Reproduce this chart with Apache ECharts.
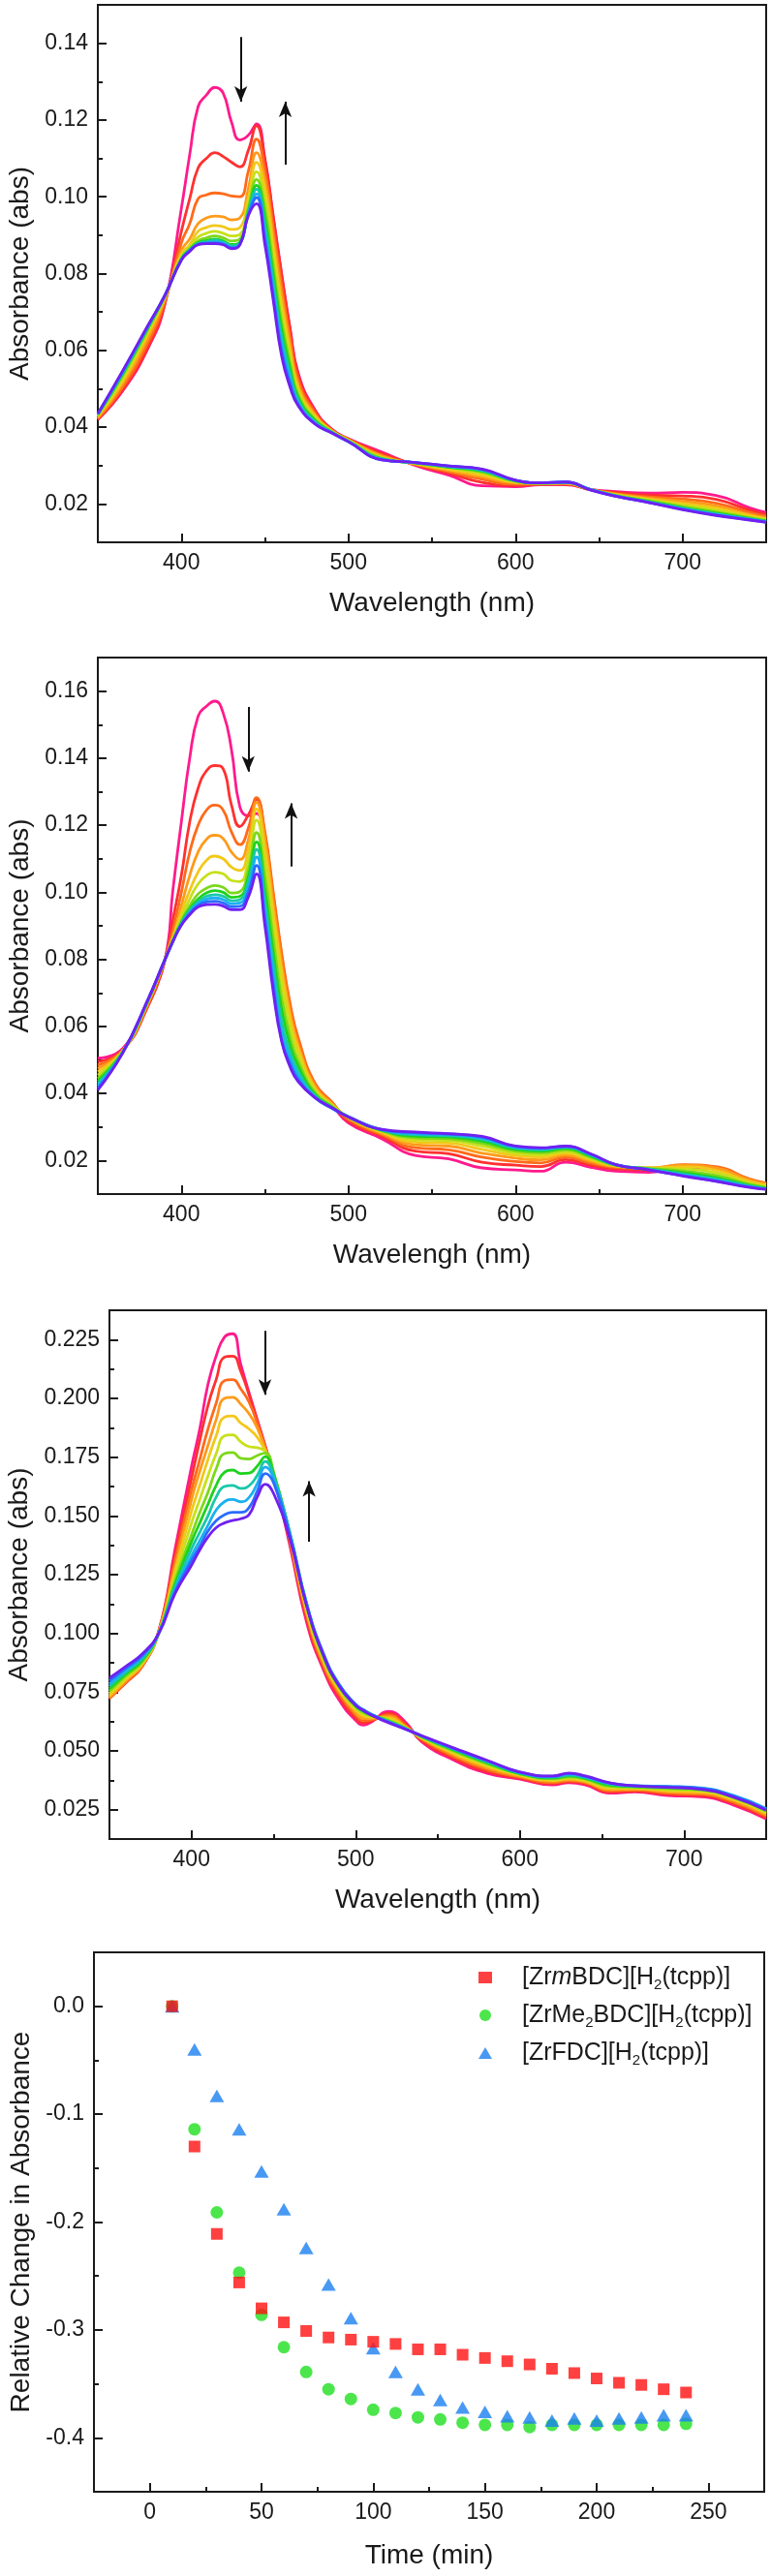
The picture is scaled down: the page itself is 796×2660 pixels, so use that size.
<!DOCTYPE html>
<html>
<head>
<meta charset="utf-8">
<title>UV-vis spectra and relative change in absorbance</title>
<script src="https://cdn.jsdelivr.net/npm/echarts@6.0.0/dist/echarts.min.js"></script>
<style>
  html, body { margin: 0; padding: 0; background: #fff; }
  #chart { width: 796px; height: 2660px; }
</style>
</head>
<body>
<div id="chart"></div>
<script>
// ---- panel 1 : spectra (first curve = t0, pink ... last = violet)
var wl1 = [350, 365, 380, 390, 400, 405, 410, 415, 420, 425, 430, 435, 440, 445, 450, 455, 460, 465, 470, 480, 490, 500,
           520, 540, 560, 580, 600, 615, 630, 645, 660, 680, 700, 720, 740, 750];
var spec1 = [
  [.0420, .0495, .0605, .0718, .0970, .1110, .1235, .1265, .1285, .1270, .1195, .1148, .1160, .1190, .1100, .0950, .0800, .0660, .0540, .0445, .0395, .0370, .0335, .0300, .0275, .0247, .0245, .0250, .0250, .0238, .0232, .0228, .0230, .0222, .0190, .0178],
  [.0420, .0498, .0608, .0720, .0910, .0995, .1075, .1100, .1115, .1105, .1090, .1078, .1120, .1185, .1095, .0945, .0795, .0655, .0535, .0442, .0394, .0369, .0331, .0302, .0280, .0256, .0248, .0251, .0251, .0237, .0230, .0223, .0221, .0212, .0184, .0173],
  [.0422, .0505, .0620, .0726, .0880, .0930, .0995, .1005, .1010, .1008, .1002, .1000, .1065, .1150, .1070, .0920, .0770, .0635, .0522, .0437, .0392, .0368, .0327, .0303, .0284, .0264, .0251, .0252, .0253, .0237, .0227, .0218, .0213, .0202, .0178, .0168],
  [.0425, .0513, .0632, .0731, .0860, .0890, .0930, .0945, .0950, .0948, .0940, .0945, .1020, .1115, .1045, .0895, .0745, .0615, .0510, .0432, .0391, .0367, .0325, .0304, .0287, .0270, .0254, .0253, .0254, .0237, .0226, .0215, .0207, .0195, .0173, .0164],
  [.0428, .0521, .0643, .0735, .0850, .0875, .0910, .0920, .0925, .0922, .0915, .0920, .0995, .1090, .1020, .0870, .0720, .0598, .0500, .0428, .0390, .0366, .0322, .0305, .0290, .0275, .0256, .0253, .0254, .0237, .0224, .0212, .0201, .0189, .0170, .0161],
  [.0430, .0528, .0650, .0738, .0845, .0870, .0895, .0905, .0910, .0905, .0898, .0902, .0980, .1065, .0995, .0845, .0697, .0583, .0491, .0424, .0389, .0365, .0320, .0306, .0293, .0280, .0258, .0254, .0255, .0237, .0223, .0210, .0197, .0184, .0166, .0159],
  [.0432, .0535, .0655, .0740, .0840, .0865, .0885, .0893, .0898, .0893, .0885, .0890, .0970, .1045, .0970, .0820, .0675, .0568, .0483, .0420, .0388, .0364, .0319, .0307, .0295, .0283, .0259, .0254, .0256, .0237, .0222, .0208, .0193, .0179, .0164, .0157],
  [.0433, .0539, .0658, .0741, .0838, .0862, .0880, .0886, .0890, .0885, .0876, .0882, .0962, .1030, .0945, .0797, .0655, .0555, .0476, .0417, .0387, .0363, .0317, .0307, .0296, .0286, .0260, .0254, .0256, .0237, .0221, .0206, .0190, .0176, .0162, .0155],
  [.0434, .0542, .0661, .0741, .0837, .0861, .0878, .0883, .0887, .0882, .0872, .0879, .0958, .1020, .0925, .0777, .0635, .0542, .0469, .0414, .0386, .0363, .0317, .0307, .0297, .0287, .0261, .0255, .0256, .0237, .0221, .0205, .0189, .0174, .0161, .0154],
  [.0434, .0544, .0663, .0742, .0836, .0860, .0877, .0880, .0883, .0879, .0869, .0877, .0955, .1008, .0905, .0757, .0615, .0528, .0463, .0411, .0386, .0362, .0316, .0308, .0298, .0289, .0261, .0255, .0257, .0237, .0221, .0204, .0187, .0173, .0160, .0153],
  [.0435, .0546, .0664, .0742, .0836, .0859, .0876, .0879, .0880, .0877, .0867, .0876, .0952, .0998, .0890, .0743, .0598, .0515, .0458, .0409, .0385, .0362, .0315, .0308, .0299, .0290, .0262, .0255, .0257, .0237, .0220, .0204, .0186, .0171, .0159, .0153],
  [.0435, .0548, .0665, .0742, .0835, .0858, .0875, .0878, .0878, .0875, .0865, .0875, .0950, .0982, .0875, .0730, .0585, .0505, .0455, .0408, .0385, .0362, .0315, .0308, .0299, .0291, .0262, .0255, .0257, .0236, .0220, .0203, .0185, .0170, .0158, .0152]
];

// ---- panel 2
var wl2 = [350, 365, 380, 390, 395, 400, 405, 410, 415, 420, 425, 430, 435, 440, 445, 450, 455, 460, 465, 470, 480, 490, 500,
           520, 540, 560, 580, 600, 615, 630, 645, 660, 680, 700, 720, 740, 750];
var spec2 = [
  [.0505, .0535, .0675, .0795, .1010, .1210, .1400, .1525, .1555, .1570, .1535, .1425, .1255, .1228, .1235, .1110, .0920, .0750, .0610, .0520, .0410, .0365, .0312, .0265, .0215, .0205, .0178, .0172, .0168, .0195, .0180, .0168, .0165, .0180, .0175, .0140, .0128],
  [.0495, .0530, .0660, .0795, .0920, .1050, .1210, .1310, .1362, .1378, .1368, .1260, .1196, .1230, .1277, .1170, .0990, .0810, .0660, .0555, .0427, .0373, .0318, .0272, .0228, .0220, .0195, .0186, .0182, .0203, .0186, .0175, .0172, .0184, .0178, .0142, .0130],
  [.0485, .0530, .0665, .0796, .0890, .1000, .1120, .1200, .1245, .1260, .1245, .1180, .1142, .1190, .1282, .1180, .1000, .0820, .0670, .0565, .0430, .0375, .0322, .0277, .0238, .0232, .0210, .0197, .0193, .0210, .0192, .0179, .0176, .0188, .0182, .0145, .0133],
  [.0475, .0528, .0670, .0797, .0870, .0960, .1050, .1120, .1158, .1170, .1160, .1120, .1098, .1155, .1268, .1160, .0970, .0790, .0645, .0545, .0422, .0370, .0326, .0281, .0247, .0243, .0222, .0207, .0202, .0216, .0197, .0182, .0178, .0186, .0178, .0142, .0131],
  [.0465, .0527, .0672, .0797, .0865, .0940, .1005, .1060, .1095, .1108, .1100, .1075, .1065, .1125, .1248, .1130, .0940, .0765, .0625, .0532, .0415, .0368, .0328, .0284, .0255, .0252, .0233, .0215, .0210, .0222, .0202, .0184, .0178, .0181, .0171, .0137, .0127],
  [.0455, .0526, .0674, .0797, .0860, .0925, .0980, .1025, .1050, .1060, .1055, .1035, .1032, .1095, .1215, .1090, .0905, .0730, .0600, .0515, .0408, .0365, .0330, .0287, .0262, .0259, .0243, .0222, .0217, .0227, .0206, .0185, .0177, .0175, .0163, .0133, .0123],
  [.0445, .0525, .0676, .0797, .0857, .0915, .0960, .0995, .1012, .1020, .1015, .0998, .1002, .1065, .1178, .1045, .0860, .0685, .0570, .0495, .0402, .0362, .0330, .0289, .0268, .0265, .0251, .0228, .0223, .0232, .0210, .0186, .0176, .0169, .0155, .0129, .0120],
  [.0437, .0524, .0677, .0797, .0855, .0910, .0950, .0980, .0998, .1005, .1000, .0985, .0988, .1045, .1150, .1005, .0820, .0650, .0545, .0480, .0397, .0360, .0330, .0290, .0273, .0270, .0258, .0233, .0228, .0236, .0213, .0187, .0175, .0164, .0149, .0126, .0118],
  [.0430, .0523, .0678, .0797, .0855, .0907, .0945, .0972, .0988, .0993, .0988, .0975, .0978, .1030, .1128, .0970, .0785, .0615, .0523, .0465, .0393, .0358, .0330, .0291, .0277, .0274, .0263, .0237, .0232, .0239, .0216, .0187, .0174, .0160, .0145, .0124, .0116],
  [.0423, .0523, .0679, .0797, .0854, .0905, .0940, .0966, .0979, .0983, .0978, .0966, .0968, .1015, .1105, .0945, .0755, .0585, .0505, .0452, .0390, .0357, .0330, .0292, .0280, .0277, .0267, .0240, .0235, .0241, .0218, .0188, .0173, .0157, .0141, .0122, .0115],
  [.0416, .0522, .0680, .0797, .0854, .0903, .0936, .0961, .0971, .0973, .0968, .0957, .0958, .1000, .1080, .0920, .0725, .0560, .0490, .0441, .0387, .0356, .0330, .0292, .0283, .0279, .0270, .0242, .0237, .0242, .0219, .0188, .0172, .0155, .0139, .0121, .0114],
  [.0410, .0522, .0680, .0797, .0854, .0902, .0933, .0956, .0963, .0964, .0959, .0948, .0948, .0985, .1055, .0900, .0703, .0555, .0480, .0435, .0388, .0358, .0330, .0293, .0285, .0280, .0272, .0243, .0238, .0243, .0220, .0188, .0172, .0154, .0138, .0120, .0114]
];

// ---- panel 3
var wl3 = [350, 360, 370, 380, 390, 400, 405, 410, 415, 420, 425, 430, 435, 440, 445, 450, 460, 470, 480, 490, 500, 505, 510, 520,
           530, 540, 560, 580, 600, 620, 630, 640, 655, 670, 690, 710, 730, 750];
var spec3 = [
  [.0740, .0800, .0865, .1010, .1360, .1710, .1870, .2060, .2180, .2260, .2275, .2145, .2025, .1910, .1795, .1670, .1370, .1050, .0850, .0715, .0630, .0610, .0625, .0668, .0625, .0540, .0460, .0405, .0380, .0355, .0365, .0355, .0320, .0325, .0310, .0305, .0270, .0210],
  [.0725, .0790, .0860, .1008, .1335, .1660, .1820, .1970, .2080, .2175, .2180, .2115, .2015, .1905, .1792, .1675, .1380, .1065, .0860, .0728, .0640, .0618, .0628, .0660, .0615, .0545, .0467, .0412, .0384, .0360, .0369, .0360, .0325, .0329, .0315, .0310, .0276, .0216],
  [.0722, .0792, .0862, .1006, .1310, .1610, .1740, .1870, .1980, .2075, .2080, .2040, .1985, .1895, .1788, .1680, .1390, .1080, .0870, .0740, .0652, .0628, .0633, .0653, .0610, .0550, .0475, .0420, .0388, .0365, .0373, .0364, .0330, .0333, .0320, .0315, .0282, .0222],
  [.0728, .0798, .0866, .1004, .1285, .1570, .1690, .1800, .1910, .2000, .2005, .1975, .1935, .1875, .1782, .1680, .1400, .1090, .0880, .0750, .0662, .0638, .0638, .0647, .0605, .0553, .0482, .0427, .0392, .0370, .0377, .0368, .0335, .0337, .0325, .0320, .0288, .0228],
  [.0735, .0805, .0870, .1002, .1265, .1520, .1630, .1740, .1840, .1920, .1925, .1895, .1870, .1835, .1776, .1680, .1410, .1100, .0890, .0758, .0672, .0648, .0643, .0640, .0602, .0556, .0488, .0434, .0396, .0374, .0381, .0372, .0340, .0340, .0330, .0325, .0293, .0234],
  [.0745, .0812, .0875, .1000, .1245, .1470, .1570, .1670, .1765, .1840, .1845, .1815, .1795, .1790, .1772, .1680, .1415, .1110, .0898, .0765, .0680, .0656, .0647, .0635, .0600, .0558, .0494, .0440, .0399, .0378, .0385, .0376, .0345, .0343, .0335, .0330, .0298, .0239],
  [.0755, .0820, .0880, .1000, .1225, .1420, .1515, .1600, .1700, .1765, .1770, .1745, .1742, .1757, .1768, .1685, .1420, .1120, .0905, .0770, .0687, .0663, .0650, .0630, .0598, .0560, .0499, .0446, .0402, .0382, .0389, .0380, .0350, .0346, .0340, .0334, .0302, .0244],
  [.0765, .0828, .0886, .1000, .1210, .1390, .1470, .1550, .1630, .1685, .1695, .1680, .1682, .1712, .1752, .1680, .1425, .1125, .0910, .0775, .0692, .0668, .0652, .0627, .0597, .0562, .0503, .0450, .0404, .0385, .0393, .0383, .0354, .0348, .0344, .0338, .0306, .0248],
  [.0775, .0835, .0893, .1000, .1198, .1360, .1430, .1500, .1580, .1625, .1630, .1617, .1628, .1672, .1732, .1670, .1425, .1130, .0915, .0780, .0696, .0672, .0653, .0625, .0596, .0563, .0506, .0454, .0406, .0388, .0397, .0386, .0358, .0350, .0347, .0341, .0309, .0252],
  [.0785, .0843, .0900, .1000, .1187, .1330, .1395, .1460, .1525, .1560, .1570, .1560, .1578, .1637, .1708, .1660, .1420, .1130, .0920, .0782, .0698, .0674, .0654, .0623, .0595, .0564, .0508, .0457, .0408, .0390, .0401, .0389, .0361, .0352, .0349, .0343, .0311, .0255],
  [.0798, .0852, .0906, .1000, .1178, .1310, .1370, .1435, .1480, .1505, .1515, .1515, .1535, .1605, .1680, .1640, .1415, .1125, .0918, .0780, .0697, .0673, .0653, .0622, .0594, .0565, .0510, .0459, .0409, .0392, .0404, .0391, .0363, .0352, .0348, .0341, .0308, .0252],
  [.0810, .0860, .0913, .1000, .1170, .1290, .1355, .1410, .1450, .1470, .1480, .1488, .1505, .1580, .1635, .1595, .1400, .1120, .0913, .0775, .0694, .0670, .0650, .0620, .0593, .0565, .0512, .0460, .0410, .0393, .0406, .0393, .0364, .0351, .0345, .0337, .0304, .0248]
];

// arrows [x1, y1, x2(head), y2(head)] in data units
var arrows1 = [[435.6, 0.1416, 435.6, 0.1248], [462.2, 0.1084, 462.2, 0.1248]];
var arrows2 = [[440.0, 0.1553, 440.0, 0.1360], [465.7, 0.1077, 465.7, 0.1265]];
var arrows3 = [[444.7, 0.2287, 444.7, 0.2015], [471.6, 0.1390, 471.6, 0.1648]];

// ---- panel 4 : relative change in absorbance vs time
var timeMin = [10, 20, 30, 40, 50, 60, 70, 80, 90, 100, 110, 120, 130, 140, 150, 160, 170, 180, 190, 200, 210, 220, 230, 240];
var relMBDC = [0, -0.130, -0.211, -0.256, -0.280, -0.293, -0.301, -0.307, -0.309, -0.311, -0.313, -0.318, -0.318, -0.323, -0.326, -0.329, -0.332, -0.336, -0.340, -0.345, -0.349, -0.351, -0.355, -0.358];
var relMe2BDC = [0, -0.114, -0.191, -0.247, -0.286, -0.316, -0.339, -0.355, -0.364, -0.374, -0.377, -0.381, -0.383, -0.386, -0.388, -0.388, -0.390, -0.388, -0.388, -0.388, -0.388, -0.388, -0.388, -0.387];
var relFDC = [0, -0.040, -0.083, -0.114, -0.153, -0.188, -0.224, -0.258, -0.289, -0.317, -0.339, -0.355, -0.365, -0.372, -0.376, -0.380, -0.381, -0.384, -0.382, -0.384, -0.382, -0.381, -0.379, -0.379];
var seriesNames = ['[ZrmBDC][H2(tcpp)]', '[ZrMe2BDC][H2(tcpp)]', '[ZrFDC][H2(tcpp)]'];
var legendRich = ['[Zr{i|m}BDC][H{s|2}(tcpp)]', '[ZrMe{s|2}BDC][H{s|2}(tcpp)]', '[ZrFDC][H{s|2}(tcpp)]'];

// ticks
var wlMajor = [400, 500, 600, 700], wlMinor = [450, 550, 650];
var y1Major = [0.02, 0.04, 0.06, 0.08, 0.10, 0.12, 0.14], y1Minor = [0.03, 0.05, 0.07, 0.09, 0.11, 0.13];
var y2Major = [0.02, 0.04, 0.06, 0.08, 0.10, 0.12, 0.14, 0.16], y2Minor = [0.03, 0.05, 0.07, 0.09, 0.11, 0.13, 0.15];
var y3Major = [0.025, 0.05, 0.075, 0.1, 0.125, 0.15, 0.175, 0.2, 0.225];
var y3Minor = [0.0375, 0.0625, 0.0875, 0.1125, 0.1375, 0.1625, 0.1875, 0.2125];
var tMajor = [0, 50, 100, 150, 200, 250], tMinor = [25, 75, 125, 175, 225];
var y4Major = [-0.4, -0.3, -0.2, -0.1, 0], y4Minor = [-0.35, -0.25, -0.15, -0.05];

var rainbow = ['#ff1a8c', '#ff3030', '#ff6a1a', '#ff9a1a', '#f2c81a', '#c8e01a', '#7cd81a', '#1ed21e',
               '#18c8a8', '#1ab0f0', '#2a6cff', '#7020f0'];

var FONT = '"Liberation Sans", Arial, Helvetica, sans-serif';
var INK = '#1a1a1a';

function fixed(n) { return function (v) { return v.toFixed(n); }; }

// main axis (line, major ticks, labels, title) + a twin carrying minor ticks only
function axisPair(dim, gridIndex, range, majors, minors, fmt, name, nameGap) {
  var pos = dim === 'x' ? 'bottom' : 'left';
  var main = {
    type: 'value', gridIndex: gridIndex, position: pos, min: range[0], max: range[1],
    axisLine: { show: true, onZero: false, lineStyle: { color: INK, width: 2 } },
    axisTick: { show: true, inside: true, length: 9, customValues: majors, lineStyle: { color: INK, width: 2 } },
    axisLabel: { show: true, customValues: majors, formatter: fmt, margin: 10, color: INK, fontSize: 23, fontFamily: FONT },
    splitLine: { show: false },
    name: name, nameLocation: 'middle', nameGap: nameGap,
    nameTextStyle: { fontSize: 28, color: INK, fontFamily: FONT }
  };
  var minor = {
    type: 'value', gridIndex: gridIndex, position: pos, min: range[0], max: range[1],
    axisLine: { show: false, onZero: false },
    axisTick: { show: true, inside: true, length: 5, customValues: minors, lineStyle: { color: INK, width: 2 } },
    axisLabel: { show: false },
    splitLine: { show: false }
  };
  return [main, minor];
}

function spectraSeries(p, wl, curves, arrows) {
  return curves.map(function (curve, i) {
    var s = {
      type: 'line', xAxisIndex: 2 * p, yAxisIndex: 2 * p,
      data: wl.map(function (w, j) { return [w, curve[j]]; }),
      showSymbol: false, smooth: 0.5, silent: true,
      lineStyle: { width: 2.8, color: rainbow[i] }, itemStyle: { color: rainbow[i] },
      z: 2 + i
    };
    if (i === curves.length - 1) {
      s.markLine = {
        silent: true, symbol: ['none', 'arrow'], symbolSize: [10, 16],
        label: { show: false }, emphasis: { disabled: true },
        lineStyle: { color: '#111', width: 2, type: 'solid' },
        data: arrows.map(function (a) { return [{ coord: [a[0], a[1]] }, { coord: [a[2], a[3]] }]; })
      };
    }
    return s;
  });
}

var frame = { show: true, borderColor: INK, borderWidth: 2, backgroundColor: 'transparent', outerBoundsMode: 'none' };
var grids = [
  Object.assign({ left: 101, top: 5, width: 690, height: 555 }, frame),
  Object.assign({ left: 101, top: 679, width: 690, height: 554 }, frame),
  Object.assign({ left: 113, top: 1353, width: 678, height: 546 }, frame),
  Object.assign({ left: 97, top: 2016, width: 692, height: 557 }, frame)
];

var xAxes = [].concat(
  axisPair('x', 0, [350, 750], wlMajor, wlMinor, fixed(0), 'Wavelength (nm)', 49),
  axisPair('x', 1, [350, 750], wlMajor, wlMinor, fixed(0), 'Wavelengh (nm)', 49),
  axisPair('x', 2, [350, 750], wlMajor, wlMinor, fixed(0), 'Wavelength (nm)', 49),
  axisPair('x', 3, [-25, 275], tMajor, tMinor, fixed(0), 'Time (min)', 52)
);
var yAxes = [].concat(
  axisPair('y', 0, [0.01, 0.15], y1Major, y1Minor, fixed(2), 'Absorbance (abs)', 62),
  axisPair('y', 1, [0.01, 0.17], y2Major, y2Minor, fixed(2), 'Absorbance (abs)', 64),
  axisPair('y', 2, [0.0125, 0.2375], y3Major, y3Minor, fixed(3), 'Absorbance (abs)', 77),
  axisPair('y', 3, [-0.45, 0.05], y4Major, y4Minor, fixed(1), 'Relative Change in Absorbance', 61)
);

function pts(ys) { return timeMin.map(function (t, j) { return [t, ys[j]]; }); }

var scatter = [
  { name: seriesNames[1], type: 'scatter', xAxisIndex: 6, yAxisIndex: 6, data: pts(relMe2BDC),
    symbol: 'circle', symbolSize: 13, itemStyle: { color: '#1fe01f' }, z: 3 },
  { name: seriesNames[2], type: 'scatter', xAxisIndex: 6, yAxisIndex: 6, data: pts(relFDC),
    symbol: 'triangle', symbolSize: [15, 13], itemStyle: { color: '#1a7ff0' }, z: 4 },
  { name: seriesNames[0], type: 'scatter', xAxisIndex: 6, yAxisIndex: 6, data: pts(relMBDC),
    symbol: 'rect', symbolSize: 12, itemStyle: { color: '#ff1010' }, z: 5 }
];

var chart = echarts.init(document.getElementById('chart'), null, { renderer: 'canvas' });
chart.setOption({
  animation: false,
  backgroundColor: '#ffffff',
  textStyle: { fontFamily: FONT },
  grid: grids,
  xAxis: xAxes,
  yAxis: yAxes,
  legend: {
    data: seriesNames,
    orient: 'vertical',
    left: 489, top: 2022,
    itemWidth: 14, itemHeight: 12, itemGap: 9,
    selectedMode: false,
    formatter: function (name) { return legendRich[seriesNames.indexOf(name)]; },
    textStyle: {
      fontSize: 25, color: INK, fontFamily: FONT, lineHeight: 30, padding: [0, 0, 0, 26],
      rich: {
        i: { fontSize: 25, fontStyle: 'italic', lineHeight: 30, fontFamily: FONT, color: INK },
        s: { fontSize: 15, lineHeight: 15, verticalAlign: 'bottom', fontFamily: FONT, color: INK }
      }
    }
  },
  series: [].concat(
    spectraSeries(0, wl1, spec1, arrows1),
    spectraSeries(1, wl2, spec2, arrows2),
    spectraSeries(2, wl3, spec3, arrows3),
    scatter
  )
});
</script>
</body>
</html>
